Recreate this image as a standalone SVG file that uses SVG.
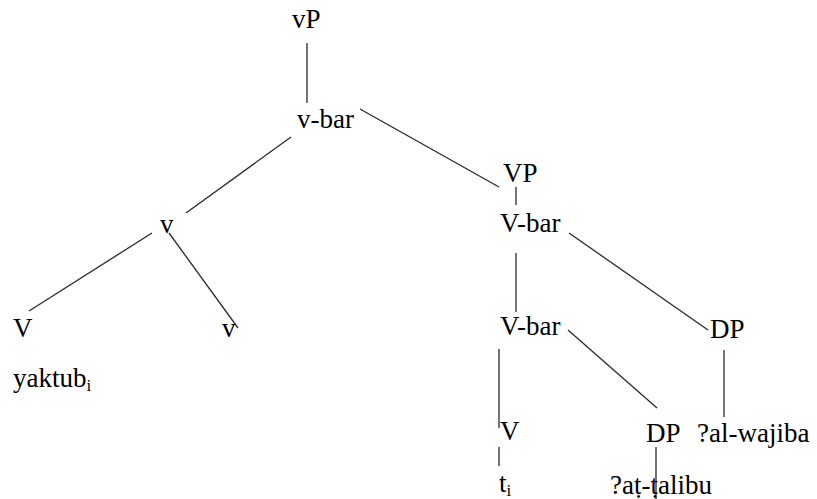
<svg xmlns="http://www.w3.org/2000/svg" width="817" height="499" viewBox="0 0 817 499">
<style>
.t{font-family:"Liberation Serif","Times New Roman",serif;font-size:27px;fill:#000}
.sub{font-size:17px}
.c line{stroke:#2a2a2a;stroke-width:1.3}
</style>
<rect width="817" height="499" fill="#fff"/>
<g id="connectors" class="c">
<line x1="307" y1="43" x2="307" y2="103"/>
<line x1="291" y1="137" x2="186" y2="213"/>
<line x1="360" y1="109" x2="499" y2="187"/>
<line x1="152" y1="233" x2="29" y2="311"/>
<line x1="169" y1="233" x2="238" y2="328"/>
<line x1="516" y1="187" x2="516" y2="205"/>
<line x1="516" y1="253" x2="516" y2="312"/>
<line x1="569" y1="233" x2="708" y2="330"/>
<line x1="568" y1="330" x2="657" y2="408"/>
<line x1="499" y1="349" x2="499" y2="428"/>
<line x1="499" y1="447" x2="499" y2="466"/>
<line x1="656" y1="447" x2="656" y2="499"/>
<line x1="724" y1="350" x2="724" y2="417"/>
</g>
<g id="n-vP"><text class="t" x="292" y="28">vP</text></g>
<g id="n-vbar"><text class="t" x="297" y="128">v-bar</text></g>
<g id="n-v"><text class="t" x="160" y="233">v</text></g>
<g id="n-V1"><text class="t" x="13" y="337">V</text></g>
<g id="n-yaktub"><text class="t" x="13" y="387">yaktub<tspan class="sub" dy="4">i</tspan></text></g>
<g id="n-v2"><text class="t" x="222" y="337">v</text></g>
<g id="n-VP"><text class="t" x="503" y="182">VP</text></g>
<g id="n-Vbar1"><text class="t" x="500" y="232">V-bar</text></g>
<g id="n-Vbar2"><text class="t" x="500" y="335">V-bar</text></g>
<g id="n-DP1"><text class="t" x="710" y="338">DP</text></g>
<g id="n-V2"><text class="t" x="500" y="440">V</text></g>
<g id="n-ti"><text class="t" x="499" y="492">t<tspan class="sub" dy="4">i</tspan></text></g>
<g id="n-DP2"><text class="t" x="646" y="442">DP</text></g>
<g id="n-atalibu"><text class="t" x="610" y="494">?aṭ-ṭalibu</text></g>
<g id="n-alwajiba"><text class="t" x="697" y="442">?al-wajiba</text></g>
</svg>
